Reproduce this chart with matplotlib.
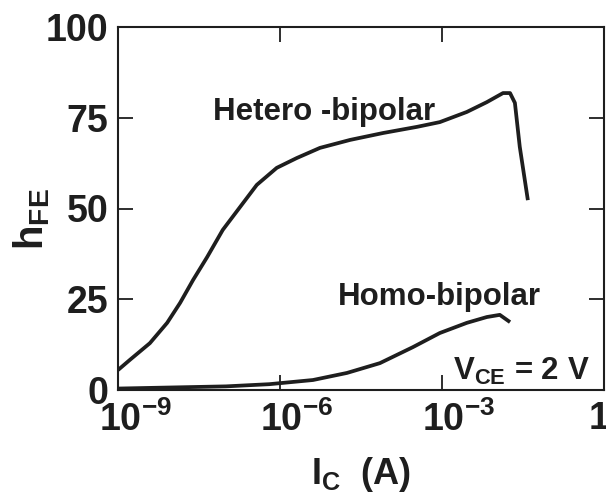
import numpy as np
import matplotlib
matplotlib.use("Agg")
import matplotlib.pyplot as plt
from matplotlib.ticker import FixedLocator, FixedFormatter, NullLocator
from matplotlib.transforms import ScaledTranslation

# -------- DATA --------
hetero_logic = [-9.0, -8.78, -8.41, -8.09, -7.85, -7.61, -7.35, -7.06, -6.74,
                -6.43, -6.06, -5.69, -5.26, -4.70, -4.09, -3.46, -3.04, -2.54,
                -2.17, -1.87, -1.74, -1.65, -1.56, -1.41]
hetero_hfe = [5.5, 8.3, 12.9, 18.5, 24.0, 30.3, 36.6, 44.1, 50.4,
              56.5, 61.2, 63.9, 66.7, 68.9, 70.8, 72.5, 73.8, 76.6,
              79.3, 81.8, 81.8, 79.1, 67.0, 52.3]

homo_logic = [-9.0, -8.0, -7.0, -6.2, -5.39, -4.76, -4.15, -3.54, -3.04,
              -2.54, -2.17, -1.93, -1.74]
homo_hfe = [0.4, 0.7, 1.0, 1.6, 2.75, 4.7, 7.4, 11.8, 15.7,
            18.5, 20.1, 20.7, 18.7]

xticks = [1e-9, 1e-6, 1e-3, 1e0]
xtick_labels = [r"$10^{-9}$", r"$10^{-6}$", r"$10^{-3}$", "1"]
yticks = [0, 25, 50, 75, 100]

# -------- STYLE --------
plt.rcParams["font.family"] = ["Liberation Sans", "DejaVu Sans"]
plt.rcParams["font.weight"] = "bold"
plt.rcParams["axes.labelweight"] = "bold"
plt.rcParams["mathtext.fontset"] = "custom"
plt.rcParams["mathtext.rm"] = "Liberation Sans:bold"
plt.rcParams["mathtext.it"] = "Liberation Sans:bold"
plt.rcParams["mathtext.bf"] = "Liberation Sans:bold"
plt.rcParams["axes.unicode_minus"] = False

ink = "#1e1e1e"

fig = plt.figure(figsize=(6.06, 5.0), dpi=100)
ax = fig.add_axes([118 / 606, 1 - 390 / 500, (604 - 118) / 606, (390 - 27) / 500])

ax.plot(10 ** np.array(hetero_logic), hetero_hfe, color=ink, lw=2.7,
        solid_capstyle="butt", solid_joinstyle="round")
ax.plot(10 ** np.array(homo_logic), homo_hfe, color=ink, lw=2.7,
        solid_capstyle="butt", solid_joinstyle="round")

ax.set_xscale("log")
ax.set_xlim(1e-9, 1e0)
ax.set_ylim(0, 100)

ax.xaxis.set_major_locator(FixedLocator(xticks))
ax.xaxis.set_major_formatter(FixedFormatter(xtick_labels))
ax.xaxis.set_minor_locator(NullLocator())
ax.set_yticks(yticks)

ax.tick_params(direction="in", length=11, width=1.3, color=ink,
               top=True, right=True, labelsize=27, labelcolor=ink)
ax.tick_params(axis="x", pad=8)
ax.tick_params(axis="y", pad=7)
for s in ax.spines.values():
    s.set_linewidth(1.5)
    s.set_color(ink)

# "10" sits over the tick, the exponent hangs to the right
for lab in ax.get_xticklabels()[:3]:
    lab.set_transform(lab.get_transform() + ScaledTranslation(0.17, 0, fig.dpi_scale_trans))
last = ax.get_xticklabels()[3]
last.set_transform(last.get_transform() + ScaledTranslation(-0.05, 0, fig.dpi_scale_trans))

ax.set_xlabel(r"$\mathregular{I_C}$  (A)", fontsize=26, color=ink, labelpad=12)
ax.set_ylabel(r"$\mathregular{h_{FE}}$", fontsize=29, color=ink)
ax.yaxis.set_label_coords(-0.135, 0.47)

ax.text(10 ** -7.24, 74.4, "Hetero -bipolar", fontsize=22.5, color=ink)
ax.text(10 ** -4.93, 23.4, "Homo-bipolar", fontsize=22.5, color=ink)
ax.text(10 ** -2.8, 2.8, r"$\mathregular{V_{CE}}$ = 2 V", fontsize=22.5, color=ink)

fig.savefig("out.png", dpi=100)
